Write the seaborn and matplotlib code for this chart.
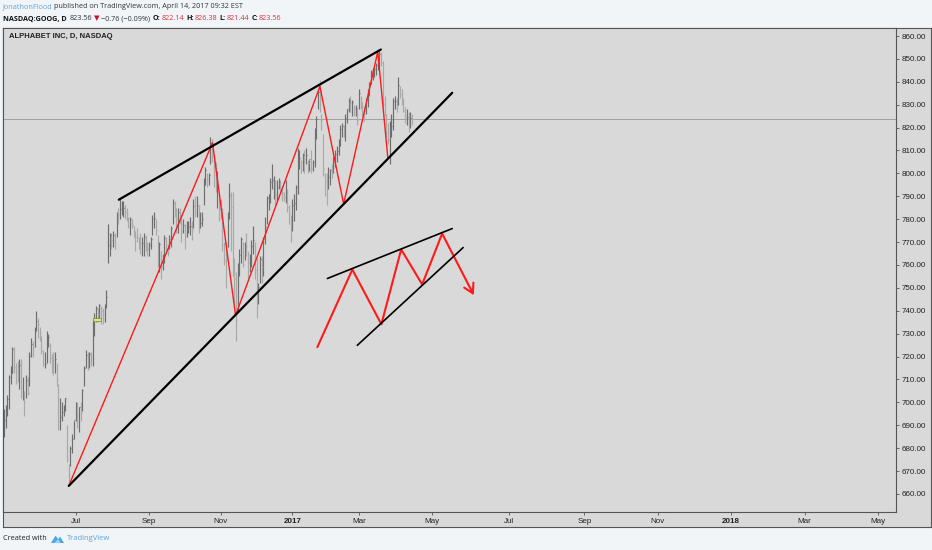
import numpy as np
import pandas as pd
import seaborn as sns
import matplotlib
matplotlib.use("Agg")
import matplotlib.pyplot as plt
from matplotlib.patches import Rectangle, Polygon

# GOOG daily bars (trading days 2016-05-03 .. 2017-04-13)
high_may16 = [697, 699, 703, 712, 716, 724, 724, 717, 718, 719, 719, 711, 705, 712, 711, 722, 728, 727, 733, 740]
low_may16 = [685, 689, 694, 697, 708, 713, 713, 708, 709, 706, 702, 701, 694, 702, 703, 707, 720, 720, 724, 731]
close_may16 = [692.4, 695.7, 701.4, 711.1, 712.9, 723.2, 715.3, 713.3, 710.8, 716.5, 706.2, 706.6, 700.3, 709.7, 704.2, 720.1, 725.3, 724.1, 732.7, 735.7]

high_jun16 = [737, 733, 729, 723, 722, 731, 730, 726, 721, 722, 722, 717, 708, 702, 700, 699, 702, 690, 673, 681, 686, 692]
low_jun16 = [728, 727, 721, 716, 715, 717, 724, 717, 713, 712, 713, 707, 688, 688, 692, 694, 696, 674, 665, 672, 678, 684]
close_jun16 = [734.2, 730.4, 722.3, 716.6, 716.7, 728.3, 728.6, 719.4, 718.4, 718.3, 718.9, 710.4, 691.7, 693.7, 695.9, 697.5, 701.9, 675.2, 668.3, 680.0, 684.1, 692.1]

high_jul16 = [700, 700, 698, 700, 706, 716, 723, 722, 722, 722, 736, 739, 742, 741, 743, 742, 741, 743, 749, 778]
low_jul16 = [692, 689, 687, 692, 696, 707, 715, 714, 715, 716, 716, 729, 735, 735, 737, 734, 734, 735, 741, 761]
close_jul16 = [699.2, 694.5, 697.8, 695.4, 705.6, 715.1, 720.6, 717.0, 721.0, 719.9, 733.8, 737.0, 741.2, 738.6, 742.7, 739.8, 738.4, 741.8, 745.9, 768.8]

high_aug16 = [774, 774, 775, 774, 783, 785, 789, 788, 788, 786, 785, 781, 781, 780, 777, 775, 776, 772, 774, 772, 774, 773, 770]
low_aug16 = [764, 767, 768, 767, 772, 778, 780, 782, 781, 780, 779, 776, 773, 776, 772, 766, 770, 767, 765, 764, 764, 766, 764]
close_aug16 = [772.9, 771.1, 773.2, 771.6, 782.2, 781.8, 784.3, 784.7, 784.9, 783.2, 782.4, 777.1, 779.9, 777.5, 775.4, 772.2, 772.1, 769.6, 769.4, 769.5, 772.2, 769.1, 767.1]

high_sep16 = [770, 772, 782, 783, 780, 773, 770, 766, 765, 773, 772, 769, 773, 777, 789, 788, 785, 785, 785, 782, 780]
low_sep16 = [764, 767, 773, 776, 773, 759, 757, 754, 758, 761, 766, 764, 767, 768, 778, 781, 774, 774, 778, 770, 774]
close_sep16 = [768.8, 771.5, 780.1, 780.4, 775.3, 759.7, 769.0, 759.7, 762.5, 771.8, 768.9, 765.7, 771.4, 776.2, 787.2, 786.9, 774.2, 783.0, 781.6, 775.0, 777.3]

high_oct16 = [778, 779, 779, 781, 779, 789, 790, 790, 786, 783, 783, 798, 803, 800, 800, 816, 815, 807, 805, 801, 789]
low_oct16 = [767, 772, 774, 773, 771, 776, 781, 781, 774, 776, 777, 786, 795, 794, 795, 804, 805, 794, 792, 785, 779]
close_oct16 = [772.6, 776.4, 776.5, 776.9, 775.1, 785.9, 783.1, 786.1, 778.2, 778.5, 780.0, 795.3, 801.5, 797.0, 799.4, 813.1, 807.7, 799.1, 795.4, 795.4, 784.5]

high_nov16 = [789, 785, 770, 770, 783, 796, 792, 792, 763, 757, 761, 767, 772, 770, 770, 774, 766, 765, 771, 777, 770]
low_nov16 = [780, 766, 760, 750, 768, 780, 766, 755, 743, 727, 740, 755, 761, 759, 762, 764, 754, 757, 759, 765, 754]
close_nov16 = [783.6, 768.7, 762.1, 762.0, 782.5, 790.5, 785.3, 762.6, 754.0, 736.1, 758.5, 764.5, 771.2, 760.5, 769.2, 768.3, 761.0, 761.7, 768.2, 770.8, 758.0]

high_dec16 = [763, 752, 764, 764, 772, 781, 790, 791, 798, 804, 799, 797, 797, 798, 797, 793, 792, 797, 793, 786, 782]
low_dec16 = [737, 743, 752, 752, 755, 769, 778, 784, 787, 793, 789, 786, 788, 793, 791, 788, 788, 787, 783, 778, 770]
close_dec16 = [747.9, 750.5, 762.5, 759.1, 771.2, 776.4, 789.3, 789.3, 796.1, 797.1, 797.9, 790.8, 794.2, 796.4, 794.6, 791.3, 789.9, 791.6, 785.1, 782.8, 771.8]

high_jan17 = [789, 791, 795, 811, 810, 806, 809, 810, 811, 806, 806, 810, 806, 820, 825, 836, 841, 826, 817, 800]
low_jan17 = [775, 779, 784, 791, 802, 800, 801, 800, 804, 800, 801, 800, 801, 803, 815, 828, 827, 819, 799, 790]
close_jan17 = [786.1, 786.9, 794.0, 806.2, 806.7, 804.8, 807.9, 806.4, 807.9, 804.6, 806.1, 802.2, 805.0, 819.3, 823.9, 835.7, 832.2, 823.3, 802.3, 796.8]

high_feb17 = [800, 803, 802, 804, 807, 810, 812, 815, 821, 822, 821, 826, 828, 833, 834, 832, 830, 830, 829]
low_feb17 = [786, 793, 795, 798, 800, 803, 805, 808, 812, 816, 816, 814, 822, 827, 827, 825, 825, 825, 821]
close_feb17 = [795.7, 798.5, 801.5, 801.3, 807.0, 808.4, 809.6, 813.7, 819.2, 820.5, 819.0, 824.2, 828.1, 831.7, 830.8, 831.3, 828.6, 829.3, 823.2]

high_mar17 = [837, 834, 831, 829, 833, 837, 840, 845, 846, 846, 848, 850, 854, 853, 849, 834, 826, 822, 823, 826, 833, 834, 833]
low_mar17 = [828, 828, 825, 823, 826, 829, 834, 839, 841, 842, 843, 845, 846, 847, 829, 825, 816, 813, 804, 816, 819, 828, 827]
close_mar17 = [835.2, 830.6, 829.1, 827.8, 831.9, 835.4, 838.7, 843.3, 845.5, 845.6, 847.2, 848.8, 852.1, 848.4, 830.5, 829.6, 817.6, 814.4, 819.5, 820.9, 831.4, 831.5, 829.6]

high_apr17 = [842, 838, 837, 833, 829, 828, 827, 827, 826]
low_apr17 = [830, 833, 830, 827, 822, 821, 818, 820, 821]
close_apr17 = [838.6, 834.6, 831.4, 827.9, 824.7, 824.7, 823.4, 824.3, 823.6]

holidays = ['2016-05-30', '2016-07-04', '2016-09-05', '2016-11-24', '2016-12-26',
            '2017-01-02', '2017-01-16', '2017-02-20']

# drawings on the chart, in (bar index, price)
zig_x = [38, 122.2, 135.7, 185.1, 199.0, 219.0, 224.9]
zig_p = [663.5, 813.4, 738.0, 838.0, 786.6, 853.2, 806.6]
top_line_x = [67.3, 220.8]
top_line_p = [788.5, 854.1]
bottom_line_x = [38, 262.6]
bottom_line_p = [663.5, 835.2]

pattern_x = [183.6, 204.1, 221.1, 232.7, 245.0, 256.7, 274.7]
pattern_p = [724.1, 758.0, 734.1, 766.8, 751.5, 773.7, 747.6]
arrow_x = [269.6, 274.7, 275.0]
arrow_p = [750.1, 747.6, 752.3]
pattern_top_x = [189.5, 262.6]
pattern_top_p = [754.1, 775.9]
pattern_bottom_x = [207.0, 269.0]
pattern_bottom_p = [724.9, 767.6]

tick_months = ['2016-07', '2016-09', '2016-11', '2017-01', '2017-03', '2017-05',
               '2017-07', '2017-09', '2017-11', '2018-01', '2018-03', '2018-05']
tick_labels = ['Jul', 'Sep', 'Nov', '2017', 'Mar', 'May', 'Jul', 'Sep', 'Nov', '2018', 'Mar', 'May']

highs = np.array(high_may16 + high_jun16 + high_jul16 + high_aug16 + high_sep16 + high_oct16 +
                 high_nov16 + high_dec16 + high_jan17 + high_feb17 + high_mar17 + high_apr17, float)
lows = np.array(low_may16 + low_jun16 + low_jul16 + low_aug16 + low_sep16 + low_oct16 +
                low_nov16 + low_dec16 + low_jan17 + low_feb17 + low_mar17 + low_apr17, float)
closes = np.array(close_may16 + close_jun16 + close_jul16 + close_aug16 + close_sep16 + close_oct16 +
                  close_nov16 + close_dec16 + close_jan17 + close_feb17 + close_mar17 + close_apr17)

hist = pd.bdate_range('2016-05-03', '2017-04-13')
hist = hist[~hist.isin(pd.to_datetime(holidays))]
future = pd.bdate_range('2017-04-14', '2018-06-29')
days = hist.append(future)
tick_pos = [int(np.argmax(days >= pd.Timestamp(m + '-01'))) for m in tick_months]

sns.set_theme(style='white')
plt.rcParams['font.family'] = ['Liberation Sans', 'DejaVu Sans']

W, H = 932, 550
BG = '#d9d9d9'
fig = plt.figure(figsize=(W / 100, H / 100), dpi=100, facecolor='#f2f5f8')


def fx(px):
    return px / W


def fy(py):
    return 1 - py / H


# outer frame holding the price scale and time scale
frame = fig.add_axes([fx(3), fy(527), fx(931) - fx(3), fy(28) - fy(527)])
frame.set_facecolor(BG)
frame.set_xticks([])
frame.set_yticks([])
for s in frame.spines.values():
    s.set_color('#555555')
    s.set_linewidth(0.8)

ax = fig.add_axes([fx(3), fy(512), fx(896) - fx(3), fy(28) - fy(512)])
ax.set_facecolor(BG)

x = np.arange(len(closes))
prev = np.r_[closes[0], closes[:-1]]
cols = np.where(closes >= prev, '#6e6e6e', '#a9a9a9')
ax.vlines(x, lows, highs, colors=cols, lw=0.85)
ax.hlines(closes, x, x + 0.5, colors=cols, lw=0.85)
ax.axhline(closes[-1], color='#8a8a8a', lw=0.5, zorder=1)

# yellow event marker
ax.add_patch(Rectangle((52.2, 735.4), 4.6, 1.6, facecolor='#ece27a', edgecolor='#7f9a3c', lw=0.6, zorder=4))

lines = pd.DataFrame({
    'x': zig_x + top_line_x + bottom_line_x,
    'p': zig_p + top_line_p + bottom_line_p,
    'seg': ['zig'] * len(zig_x) + ['top'] * 2 + ['bottom'] * 2,
})
sns.lineplot(data=lines[lines.seg == 'zig'], x='x', y='p', sort=False, estimator=None,
             color='#ff1a1a', lw=1.0, ax=ax, zorder=5)
sns.lineplot(data=lines[lines.seg != 'zig'], x='x', y='p', units='seg', sort=False, estimator=None,
             color='black', lw=1.6, ax=ax, zorder=5)

pattern = pd.DataFrame({
    'x': pattern_x + arrow_x + pattern_top_x + pattern_bottom_x,
    'p': pattern_p + arrow_p + pattern_top_p + pattern_bottom_p,
    'seg': ['zig'] * len(pattern_x) + ['arrow'] * 3 + ['top'] * 2 + ['bottom'] * 2,
})
sns.lineplot(data=pattern[pattern.seg.isin(['zig', 'arrow'])], x='x', y='p', units='seg',
             sort=False, estimator=None, color='#ff1a1a', lw=1.5, ax=ax, zorder=5)
sns.lineplot(data=pattern[pattern.seg.isin(['top', 'bottom'])], x='x', y='p', units='seg',
             sort=False, estimator=None, color='black', lw=1.2, ax=ax, zorder=5)

ax.set_xlim(-0.5, 522.5)
ax.set_ylim(652.1, 863.5)
ax.set_xlabel('')
ax.set_ylabel('')
ax.yaxis.tick_right()
yt = np.arange(660, 861, 10)
ax.set_yticks(yt)
ax.set_yticklabels([f'{v:.2f}' for v in yt])
ax.set_xticks(tick_pos)
ax.set_xticklabels(tick_labels)
for lab in ax.get_xticklabels():
    if lab.get_text().isdigit():
        lab.set_fontweight('bold')
ax.tick_params(axis='y', direction='out', length=2.5, width=0.6, color='#555555',
               labelsize=5.8, pad=1.5, labelcolor='#222222', right=True, left=False)
ax.tick_params(axis='x', direction='out', length=2.0, width=0.6, color='#555555',
               labelsize=5.8, pad=2.0, labelcolor='#222222', bottom=True)
for s in ax.spines.values():
    s.set_color('#555555')
    s.set_linewidth(0.8)

fig.text(fx(9), fy(37), 'ALPHABET INC, D, NASDAQ', fontsize=5.5, fontweight='bold',
         color='#222222', va='center', ha='left')

renderer = fig.canvas.get_renderer()


def chain(parts, px, py, size):
    for s, color, weight, gap in parts:
        t = fig.text(fx(px), fy(py), s, fontsize=size, color=color, fontweight=weight,
                     va='center', ha='left', family=['Open Sans', 'DejaVu Sans'])
        px = t.get_window_extent(renderer).x1 + gap


dark = '#333333'
red = '#d2303f'
chain([('JonathonFlood', '#5ea3dc', 'normal', 1.5),
       ('published on TradingView.com, April 14, 2017 09:32 EST', dark, 'normal', 0)], 3, 7, 5.2)
chain([('NASDAQ:GOOG, D', '#111111', 'bold', 3),
       ('823.56', dark, 'normal', 1.5),
       ('\u25bc', '#c8102e', 'normal', 1.5),
       ('\u22120.76 (\u22120.09%)', dark, 'normal', 3),
       ('O:', '#111111', 'bold', 0.5), ('822.14', red, 'normal', 2.5),
       ('H:', '#111111', 'bold', 0.5), ('826.38', red, 'normal', 2.5),
       ('L:', '#111111', 'bold', 0.5), ('821.44', red, 'normal', 2.5),
       ('C:', '#111111', 'bold', 0.5), ('823.56', red, 'normal', 0)], 3, 19, 5.2)

# footer with logo
fig.text(fx(3), fy(539), 'Created with', fontsize=5.3, color='#222222', va='center', ha='left',
         family=['Open Sans', 'DejaVu Sans'])
logo_ax = fig.add_axes([fx(51), fy(544), fx(13), fx(13) * W / H * 0.75])
logo_ax.set_axis_off()
logo_ax.add_patch(Polygon([[0, 0.1], [0.35, 0.85], [0.55, 0.5], [0.7, 0.75], [1, 0.1]],
                          closed=True, facecolor='#48a8e6', edgecolor='none'))
logo_ax.add_patch(Polygon([[0.25, 0.1], [0.55, 0.5], [0.75, 0.1]],
                          closed=True, facecolor='#9fd3f5', edgecolor='none'))
logo_ax.set_xlim(0, 1)
logo_ax.set_ylim(0, 1)
fig.text(fx(67), fy(539), 'TradingView', fontsize=5.5, color='#5ea3dc', va='center', ha='left',
         family=['Open Sans', 'DejaVu Sans'])

fig.savefig('out.png', dpi=100, facecolor=fig.get_facecolor())
